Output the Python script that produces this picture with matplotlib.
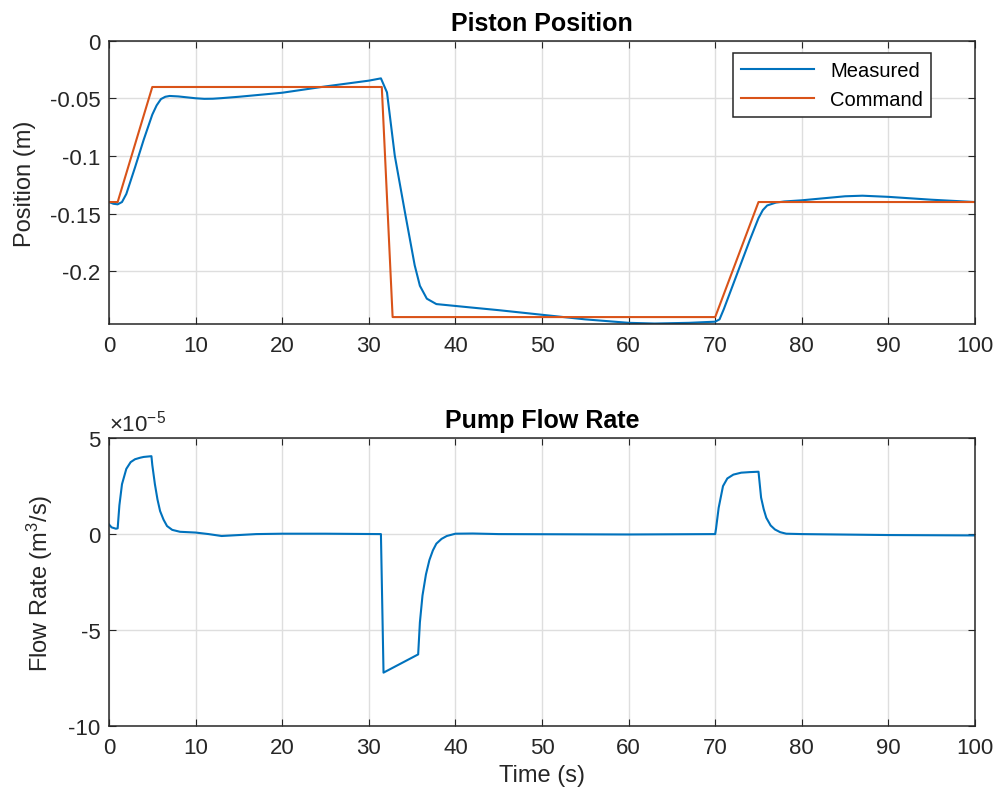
import numpy as np
import matplotlib as mpl
mpl.use('Agg')
import matplotlib.pyplot as plt
from matplotlib.ticker import FuncFormatter

# MATLAB-like look
mpl.rcParams.update({
    "font.family": ["Liberation Sans", "DejaVu Sans"],
    "mathtext.fontset": "custom",
    "mathtext.rm": "Liberation Sans",
    "mathtext.default": "regular",
    "axes.unicode_minus": False,
    "axes.edgecolor": "#262626",
    "axes.linewidth": 1.1,
    "xtick.color": "#262626",
    "ytick.color": "#262626",
    "xtick.direction": "in",
    "ytick.direction": "in",
    "xtick.top": True,
    "ytick.right": True,
    "xtick.major.size": 5,
    "ytick.major.size": 5,
    "xtick.major.pad": 8,
    "ytick.major.pad": 6,
    "xtick.labelsize": 16,
    "ytick.labelsize": 16,
})

blue = "#0072BD"
orange = "#D95319"

# ---- data ----
# piston position, measured (s, m)
t_meas = [0, 0.5, 1.0, 1.5, 2.0, 3.0, 4.0, 5.0, 5.5, 6.0, 6.5, 7.0, 8.0, 9.0,
          10.0, 11.0, 12.0, 13.0, 15.0, 20.0, 25.0, 30.0, 31.4, 32.1, 33.0,
          34.2, 35.3, 35.9, 36.7, 37.8, 41.7, 45.0, 50.0, 55.0,
          60.0, 63.0, 67.0, 70.0, 70.5, 71.0, 72.0, 73.0, 74.0, 75.0, 75.5,
          76.0, 77.0, 78.0, 80.0, 85.0, 87.0, 90.0, 95.0, 100.0]
pos_meas = [-0.140, -0.1415, -0.1420, -0.1400, -0.1330, -0.1100, -0.0860,
            -0.0640, -0.0560, -0.0505, -0.0485, -0.0478, -0.0482, -0.0490,
            -0.0498, -0.0503, -0.0502, -0.0497, -0.0485, -0.0450, -0.0395,
            -0.0345, -0.0325, -0.0447, -0.0997, -0.1500, -0.1950, -0.2128,
            -0.2240, -0.2287, -0.2316, -0.2340, -0.2380,
            -0.2420, -0.2450, -0.2456, -0.2450, -0.2440, -0.2420, -0.2330,
            -0.2130, -0.1930, -0.1730, -0.1540, -0.1470, -0.1430, -0.1405,
            -0.1395, -0.1385, -0.1350, -0.1345, -0.1355, -0.1380, -0.1400]

# piston position, command (s, m)
t_cmd = [0, 1.0, 5.0, 31.5, 32.75, 70.0, 75.0, 100.0]
pos_cmd = [-0.14, -0.14, -0.04, -0.04, -0.24, -0.24, -0.14, -0.14]

# pump flow rate (s, 1e-5 m^3/s)
t_flow = [0, 0.3, 0.8, 1.0, 1.2, 1.5, 2.0, 2.5, 3.0, 3.6, 4.0, 4.9, 5.0, 5.3,
          5.6, 5.9, 6.3, 6.7, 7.3, 8.2, 10.0, 11.5, 13.0, 15.0, 17.0, 20.0,
          25.0, 31.4, 31.7, 35.7, 35.9, 36.2, 36.6, 37.0, 37.4, 37.8, 38.4,
          39.0, 40.0, 42.0, 45.0, 60.0, 70.0, 70.1, 70.4, 70.9, 71.4, 72.1,
          73.0, 74.0, 75.0, 75.3, 75.6, 75.9, 76.4, 76.9, 77.5, 78.2, 80.0,
          90.0, 100.0]
flow = [0.5, 0.35, 0.28, 0.3, 1.5, 2.6, 3.4, 3.75, 3.9, 3.98, 4.02, 4.06,
        3.6, 2.6, 1.8, 1.2, 0.75, 0.42, 0.22, 0.12, 0.08, 0.0, -0.1, -0.05,
        0.0, 0.02, 0.02, 0.0, -7.22, -6.27, -4.6, -3.2, -2.1, -1.35, -0.85,
        -0.5, -0.25, -0.1, 0.02, 0.03, 0.0, -0.02, 0.0, 0.3, 1.37, 2.5, 2.9,
        3.1, 3.2, 3.23, 3.25, 1.9, 1.3, 0.85, 0.45, 0.24, 0.1, 0.02, 0.0,
        -0.05, -0.07]
flow_scale = 1e-5

xticks = np.arange(0, 101, 10)

fig = plt.figure(figsize=(10, 8.04), dpi=100)
ax1 = fig.add_axes([0.109, 0.5958, 0.866, 0.352])
ax2 = fig.add_axes([0.109, 0.0958, 0.866, 0.358])

# ---- Piston Position ----
ax1.plot(t_meas, pos_meas, color=blue, lw=1.5, label="Measured")
ax1.plot(t_cmd, pos_cmd, color=orange, lw=1.5, label="Command")
ax1.set_xlim(0, 100)
ax1.set_ylim(-0.246, 0)
ax1.set_xticks(xticks)
ax1.set_yticks([-0.2, -0.15, -0.1, -0.05, 0])
ax1.yaxis.set_major_formatter(FuncFormatter(lambda v, p: "%g" % v))
ax1.grid(True, color="#dedede", lw=1)
ax1.set_axisbelow(True)
ax1.set_title("Piston Position", fontsize=18, fontweight="bold", pad=8)
ax1.set_ylabel("Position (m)", fontsize=17, color="#262626", labelpad=10)
leg = ax1.legend(loc="upper right", bbox_to_anchor=(0.949, 0.958),
                 borderaxespad=0, fontsize=14.5, handlelength=3.6,
                 fancybox=False, framealpha=1, edgecolor="#262626")
leg.get_frame().set_linewidth(1.1)

# ---- Pump Flow Rate ----
ax2.plot(t_flow, np.array(flow) * flow_scale, color=blue, lw=1.5)
ax2.set_xlim(0, 100)
ax2.set_ylim(-10 * flow_scale, 5 * flow_scale)
ax2.set_xticks(xticks)
ax2.set_yticks(np.array([-10, -5, 0, 5]) * flow_scale)
ax2.yaxis.set_major_formatter(
    FuncFormatter(lambda v, p: "%g" % round(v / flow_scale, 6)))
ax2.text(0, 1.008, r"$\times10^{-5}$", transform=ax2.transAxes,
         fontsize=16, color="#262626", ha="left", va="bottom")
ax2.grid(True, color="#dedede", lw=1)
ax2.set_axisbelow(True)
ax2.set_title("Pump Flow Rate", fontsize=18, fontweight="bold", pad=8)
ax2.set_ylabel("Flow Rate (m$^3$/s)", fontsize=17, color="#262626", labelpad=10)
ax2.set_xlabel("Time (s)", fontsize=17, color="#262626")

fig.savefig("out.png", dpi=100, facecolor="white")
